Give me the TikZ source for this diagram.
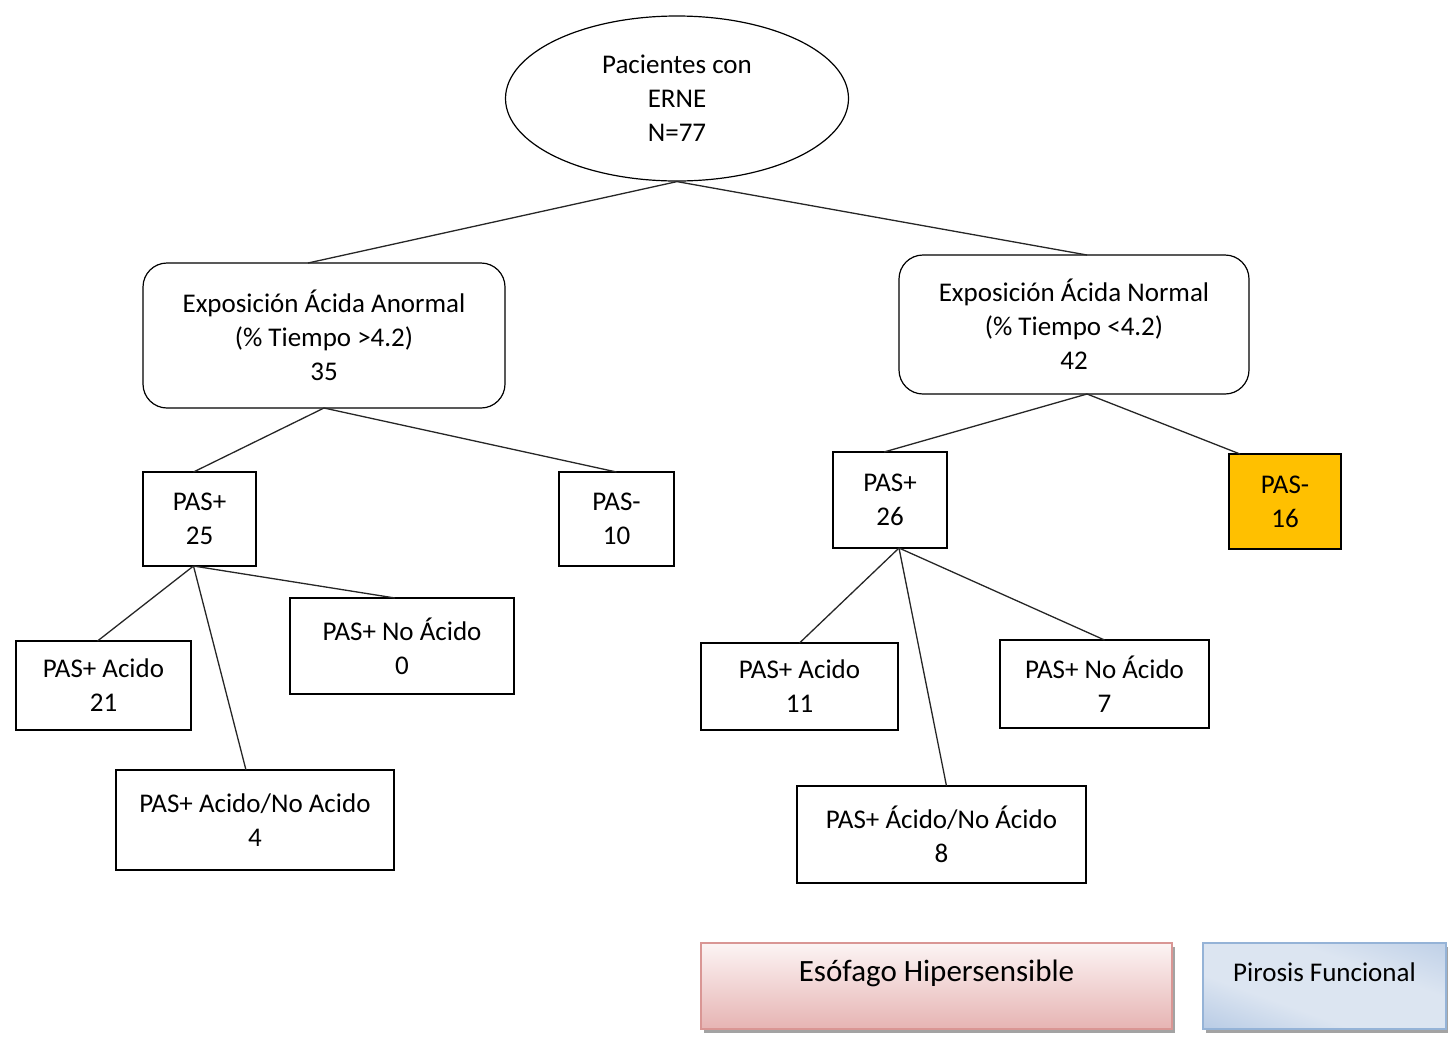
\documentclass[tikz,border=0pt]{standalone}
\usepackage{fontspec}
\setmainfont{Carlito}
\usetikzlibrary{shapes.geometric,calc,shadows}
\definecolor{pasorange}{HTML}{FFC000}
\definecolor{pinkedge}{HTML}{D99694}
\definecolor{pinklow}{HTML}{E6B4B3}
\definecolor{pinkhigh}{HTML}{FCF4F4}
\definecolor{blueedge}{HTML}{95B3D7}
\definecolor{bluedark}{HTML}{98B4DA}
\definecolor{bluelight}{HTML}{DCE5F1}
% diagonal blue fill: darker at two corners, pale through the middle
\pgfdeclarehorizontalshading{bluesheen}{100bp}{
  color(0bp)=(bluedark); color(38bp)=(bluelight); color(62bp)=(bluelight); color(100bp)=(bluedark!80!bluelight)}
\begin{document}
\begin{tikzpicture}[x=1pt,y=-1pt,
  every node/.style={font=\fontsize{27}{34}\selectfont, align=center, text=black},
  box/.style={draw=black, line width=1.2pt, inner sep=0pt, outer sep=0pt},
  rbox/.style={box, rounded corners=24pt},
  link/.style={draw=black!85, line width=1.3pt},
  legendbox/.style={inner sep=0pt, outer sep=0pt, line width=1.2pt,
    drop shadow={shadow xshift=3pt, shadow yshift=-4pt, fill=black!45, opacity=0.8}}
]
\useasboundingbox (0,0) rectangle (1448,1037);

% root
\node[ellipse, draw=black, line width=1.2pt, minimum width=343pt, minimum height=165pt, inner sep=0pt]
  (root) at (677,98.5) {Pacientes con\\ERNE\\N=77};

% first level
\node[rbox, minimum width=362pt, minimum height=145pt] (anorm) at (324,335.5)
  {Exposición Ácida Anormal\\(\% Tiempo >4.2)\\35};
\node[rbox, minimum width=350pt, minimum height=139pt] (norm) at (1074,324.5)
  {Exposición Ácida Normal\\(\% Tiempo <4.2)\\42};

% second level
\node[box, minimum width=113pt, minimum height=94pt] (p25) at (199.5,519) {PAS+\\25};
\node[box, minimum width=115pt, minimum height=94pt] (m10) at (616.5,519) {PAS-\\10};
\node[box, minimum width=114pt, minimum height=96pt] (p26) at (890,500) {PAS+\\26};
\node[box, fill=pasorange, minimum width=112pt, minimum height=95pt] (m16) at (1285,501.5) {PAS-\\16};

% third level, left
\node[box, minimum width=175pt, minimum height=89pt] (a21) at (103.5,685.5) {PAS+ Acido\\21};
\node[box, minimum width=224pt, minimum height=96pt] (n0) at (402,646) {PAS+ No Ácido\\0};
\node[box, minimum width=278pt, minimum height=100pt] (an4) at (255,820) {PAS+ Acido/No Acido\\4};

% third level, right
\node[box, minimum width=197pt, minimum height=87pt] (a11) at (799.5,686.5) {PAS+ Acido\\11};
\node[box, minimum width=209pt, minimum height=88pt] (n7) at (1104.5,684) {PAS+ No Ácido\\7};
\node[box, minimum width=289pt, minimum height=97pt] (an8) at (941.5,834.5) {PAS+ Ácido/No Ácido\\8};

% connectors
\draw[link] (root.south) -- ($(anorm.north)+(-16,0)$);
\draw[link] (root.south) -- ($(norm.north)+(13,0)$);
\draw[link] (anorm.south) -- ($(p25.north)+(-6,0)$);
\draw[link] (anorm.south) -- (m10.north);
\draw[link] ($(p25.south)+(-6,0)$) -- ($(a21.north)+(-6,0)$);
\draw[link] ($(p25.south)+(-6,0)$) -- ($(n0.north)+(-7,0)$);
\draw[link] ($(p25.south)+(-6,0)$) -- ($(an4.north)+(-9,0)$);
\draw[link] ($(norm.south)+(13,0)$) -- ($(p26.north)+(-6,0)$);
\draw[link] ($(norm.south)+(13,0)$) -- ($(m16.north west)+(11,0)$);
\draw[link] ($(p26.south)+(9,0)$) -- (a11.north);
\draw[link] ($(p26.south)+(9,0)$) -- (n7.north);
\draw[link] ($(p26.south)+(9,0)$) -- ($(an8.north)+(5,0)$);

% legend
\node[legendbox, draw=pinkedge, top color=pinkhigh, bottom color=pinklow,
  minimum width=471pt, minimum height=86pt] (hiper) at (936.5,986) {};
\node[font=\fontsize{31}{36}\selectfont] (hipertext) at ($(hiper.north)+(0,30)$) {Esófago Hipersensible};
\node[legendbox, draw=blueedge, shading=bluesheen, shading angle=70,
  minimum width=243pt, minimum height=86pt] (piro) at (1324.5,986) {};
\node (pirotext) at ($(piro.north)+(0,29)$) {Pirosis Funcional};
\end{tikzpicture}
\end{document}
